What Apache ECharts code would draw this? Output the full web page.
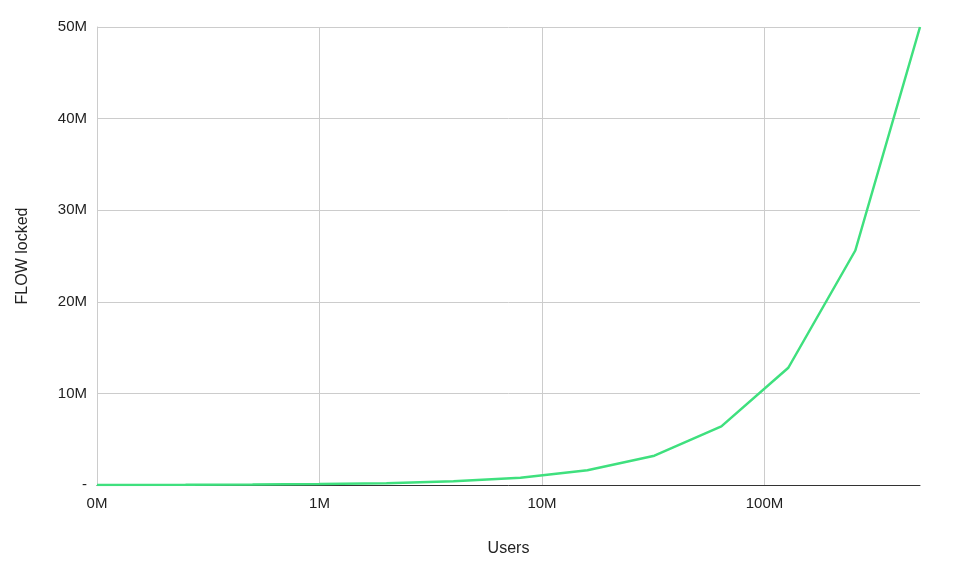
<!DOCTYPE html>
<html><head><meta charset="utf-8">
<script src="https://cdn.jsdelivr.net/npm/echarts@6/dist/echarts.min.js"></script>
<style>html,body{margin:0;padding:0;background:#fff}#c{width:960px;height:574px}</style>
</head><body><div id="c"></div>
<script>
var users = [100000, 250000, 500000, 1000000, 2000000, 4000000, 8000000, 16000000, 32000000, 64000000, 128000000, 256000000, 500000000];
var flowLocked = [10000, 25000, 50000, 100000, 200000, 400000, 800000, 1600000, 3200000, 6400000, 12800000, 25600000, 50000000];
var yTicks = [0, 10000000, 20000000, 30000000, 40000000, 50000000];
var chart = echarts.init(document.getElementById('c'));
chart.setOption({
  animation: false,
  grid: {left: 97, right: 40, top: 27, bottom: 89},
  xAxis: {
    type: 'log', min: 100000, max: 500000000, logBase: 10,
    name: 'Users', nameLocation: 'middle', nameGap: 56,
    nameTextStyle: {fontFamily: 'Liberation Sans', fontSize: 16, color: '#222'},
    axisLine: {show: true, lineStyle: {color: '#333', width: 1}},
    axisTick: {show: false},
    minorTick: {show: false},
    splitLine: {show: true, lineStyle: {color: ['#ccc', '#ccc', '#ccc', '#ccc', 'rgba(0,0,0,0)'], width: 1}},
    axisLabel: {fontFamily: 'Liberation Sans', fontSize: 15, color: '#222', margin: 11,
      showMaxLabel: false,
      formatter: function (v) { return Math.round(v / 1000000) + 'M'; }}
  },
  yAxis: {
    type: 'value', min: 0, max: 50000000, interval: 10000000,
    name: 'FLOW locked', nameLocation: 'middle', nameGap: 66,
    nameTextStyle: {fontFamily: 'Liberation Sans', fontSize: 16, color: '#222'},
    axisLine: {show: true, lineStyle: {color: '#ccc'}},
    axisTick: {show: false},
    splitLine: {show: true, lineStyle: {color: '#ccc', width: 1}},
    axisLabel: {fontFamily: 'Liberation Sans', fontSize: 15, color: '#222', margin: 10,
      formatter: function (v) { return v === yTicks[0] ? '-' : (v / 1000000) + 'M'; }}
  },
  series: [{
    type: 'line',
    data: users.map(function (u, i) { return [u, flowLocked[i]]; }),
    showSymbol: false,
    lineStyle: {color: '#3fe07e', width: 2.5},
    itemStyle: {color: '#3fe07e'}
  }]
});
</script></body></html>
